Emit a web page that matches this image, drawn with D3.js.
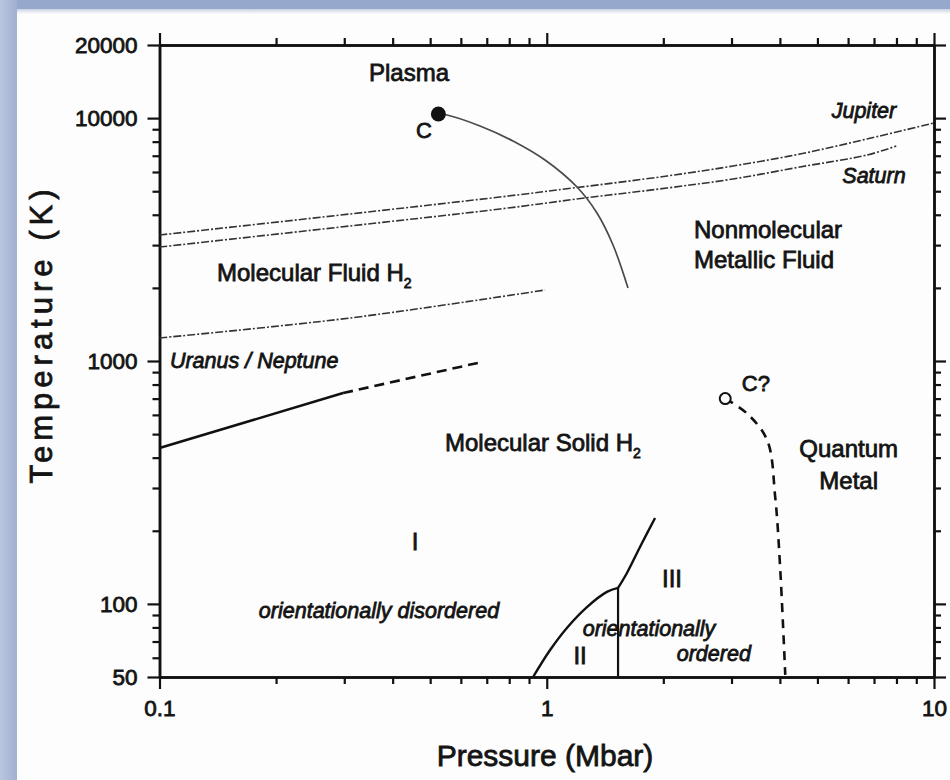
<!DOCTYPE html>
<html>
<head>
<meta charset="utf-8">
<script src="https://cdn.jsdelivr.net/npm/d3@7"></script>
<style>
  html, body { margin: 0; padding: 0; background: #fff; }
  svg { display: block; }
  text { font-family: "Liberation Sans", Arial, Helvetica, sans-serif; fill: #141414; }
</style>
</head>
<body>
<svg id="chart" width="950" height="780"></svg>
<script>
// ---- axis ticks ----
const pressureMajor = [0.1, 1, 10];
const pressureMinor = [0.2, 0.3, 0.4, 0.5, 0.6, 0.7, 0.8, 0.9, 2, 3, 4, 5, 6, 7, 8, 9];
const pressureLabels = ["0.1", "1", "10"];
const tempMajor = [50, 100, 1000, 10000, 20000];
const tempMinor = [60, 70, 80, 90, 200, 300, 400, 500, 600, 700, 800, 900,
                   2000, 3000, 4000, 5000, 6000, 7000, 8000, 9000];
const tempLabels = ["50", "100", "1000", "10000", "20000"];

// ---- phase boundaries and isentropes: [pressure (Mbar), temperature (K)] ----
const criticalPoint = [0.525, 10400];
const plasmaBoundary = [[0.525, 10400], [0.5527, 10300], [0.6724, 9279], [0.818, 8050], [0.9897, 6722],
                        [1.197, 5203], [1.348, 4067], [1.483, 3002], [1.621, 1998]];
const jupiterIsentrope = [[0.1, 3302], [0.31, 4029], [0.757, 4734], [1.169, 5154], [2.044, 5776],
                          [3.027, 6351], [4.508, 7116], [6.71, 8204], [10, 9546]];
const saturnIsentrope = [[0.1, 2946], [0.31, 3596], [0.757, 4224], [1.255, 4690], [2.044, 5154],
                         [3.027, 5615], [4.508, 6292], [6.71, 7047], [7.99, 7676]];
const uranusIsentrope = [[0.1, 1244], [0.31, 1503], [0.99, 1960]];
const meltingMeasured = [[0.1, 438], [0.298, 738]];
const meltingExtrapolated = [[0.298, 738], [0.681, 991]];
const phaseIIBoundary = [[0.922, 50], [1.02, 64.6], [1.13, 80], [1.27, 97], [1.43, 112], [1.528, 116.3]];
const phaseIIIBoundary = [[1.528, 116.3], [1.611, 134], [1.741, 171.5], [1.904, 225.8]];
const phaseII_IIIBoundary = [[1.528, 116.3], [1.528, 50]];
const metalCriticalPoint = [2.89, 700];
const metalBoundary = [[2.89, 700], [3.29, 608], [3.71, 471], [3.89, 275], [4.0, 147], [4.13, 51]];

// ---- region labels: text, pressure, temperature, anchor ----
const regionLabels = [
  ["Plasma", 0.441, 15480, "middle"],
  ["Nonmolecular", 2.40, 3495, "start"],
  ["Metallic Fluid", 2.40, 2630, "start"],
  ["Quantum", 6.02, 437, "middle"],
  ["Metal", 6.02, 323, "middle"],
  ["I", 0.457, 181.5, "middle"],
  ["II", 1.219, 61.6, "middle"],
  ["III", 2.106, 127.8, "middle"]
];
const subscriptLabels = [
  ["Molecular Fluid H", "2", 0.1408, 2323],
  ["Molecular Solid H", "2", 0.546, 464]
];
const italicLabels = [
  ["Jupiter", 7.99, 10800, "end"],
  ["Saturn", 8.45, 5830, "end"],
  ["Uranus / Neptune", 0.1064, 1011, "start"],
  ["orientationally disordered", 0.3688, 94.5, "middle"],
  ["orientationally", 1.837, 79.6, "middle"],
  ["ordered", 2.70, 62.8, "middle"]
];
const pointLabels = [
  ["C", 0.482, 8935, "middle"],
  ["C?", 3.19, 812, "start"]
];

// ---- layout ----
const W = 950, H = 780;
const svg = d3.select("#chart");

// framed page
const defs = svg.append("defs");
const gTop = defs.append("linearGradient").attr("id", "frameTop").attr("x1", 0).attr("y1", 0).attr("x2", 0).attr("y2", 1);
gTop.append("stop").attr("offset", "0%").attr("stop-color", "#96a8cb");
gTop.append("stop").attr("offset", "100%").attr("stop-color", "#b4c2de");
const gLeft = defs.append("linearGradient").attr("id", "frameLeft").attr("x1", 0).attr("y1", 0).attr("x2", 1).attr("y2", 0);
gLeft.append("stop").attr("offset", "0%").attr("stop-color", "#b9c6e0");
gLeft.append("stop").attr("offset", "100%").attr("stop-color", "#a0b0d0");
const gShade = defs.append("linearGradient").attr("id", "pageShade").attr("x1", 0).attr("y1", 0).attr("x2", 0).attr("y2", 1);
gShade.append("stop").attr("offset", "0%").attr("stop-color", "#c9d1e2");
gShade.append("stop").attr("offset", "100%").attr("stop-color", "#fdfdfd");
svg.append("rect").attr("width", W).attr("height", H).attr("fill", "url(#frameTop)");
svg.append("rect").attr("x", 0).attr("y", 0).attr("width", 17).attr("height", H).attr("fill", "url(#frameLeft)");
svg.append("rect").attr("x", 17).attr("y", 9).attr("width", W - 17).attr("height", H - 9).attr("fill", "#fdfdfd");
svg.append("rect").attr("x", 17).attr("y", 9).attr("width", W - 17).attr("height", 5).attr("fill", "url(#pageShade)");

const x = d3.scaleLog().domain([0.1, 10]).range([159.5, 934]);
const y = d3.scaleLog().domain([50, 20000]).range([677, 45]);

const plot = svg.append("g");

// ---- axes on all four sides, ticks pointing outward ----
function styleAxis(g) {
  g.select(".domain").attr("stroke", "#111").attr("stroke-width", 2.5);
  g.selectAll(".tick line").attr("stroke", "#111").attr("stroke-width", 2.2);
  g.selectAll("text").attr("font-size", 22.5).attr("fill", "#141414")
    .attr("stroke", "#141414").attr("stroke-width", 0.8)
    .attr("font-family", "'Liberation Sans', Arial, sans-serif");
}
const MAJ = 12, MIN = 7;

// bottom
plot.append("g").attr("transform", `translate(0,${y(50)})`)
  .call(d3.axisBottom(x).tickValues(pressureMinor).tickSize(MIN).tickSizeOuter(0).tickFormat(""))
  .call(styleAxis);
plot.append("g").attr("transform", `translate(0,${y(50)})`)
  .call(d3.axisBottom(x).tickValues(pressureMajor).tickSize(MAJ).tickSizeOuter(0).tickPadding(11)
    .tickFormat((d, i) => pressureLabels[i]))
  .call(styleAxis);
// top
plot.append("g").attr("transform", `translate(0,${y(20000)})`)
  .call(d3.axisTop(x).tickValues(pressureMinor).tickSize(MIN).tickSizeOuter(0).tickFormat(""))
  .call(styleAxis);
plot.append("g").attr("transform", `translate(0,${y(20000)})`)
  .call(d3.axisTop(x).tickValues(pressureMajor).tickSize(MAJ).tickSizeOuter(0).tickFormat(""))
  .call(styleAxis);
// left
plot.append("g").attr("transform", `translate(${x(0.1)},0)`)
  .call(d3.axisLeft(y).tickValues(tempMinor).tickSize(MIN).tickSizeOuter(0).tickFormat(""))
  .call(styleAxis);
plot.append("g").attr("transform", `translate(${x(0.1)},0)`)
  .call(d3.axisLeft(y).tickValues(tempMajor).tickSize(MAJ).tickSizeOuter(0).tickPadding(10)
    .tickFormat((d, i) => tempLabels[i]))
  .call(styleAxis);
// right
plot.append("g").attr("transform", `translate(${x(10)},0)`)
  .call(d3.axisRight(y).tickValues(tempMinor).tickSize(MIN).tickSizeOuter(0).tickFormat(""))
  .call(styleAxis);
plot.append("g").attr("transform", `translate(${x(10)},0)`)
  .call(d3.axisRight(y).tickValues(tempMajor).tickSize(MAJ).tickSizeOuter(0).tickFormat(""))
  .call(styleAxis);

// axis titles
plot.append("text")
  .attr("x", 545).attr("y", 766)
  .attr("text-anchor", "middle").attr("font-size", 30)
  .attr("stroke", "#141414").attr("stroke-width", 0.8)
  .text("Pressure (Mbar)");
plot.append("text")
  .attr("transform", `translate(52,334) rotate(-90)`)
  .attr("text-anchor", "middle").attr("font-size", 31).attr("letter-spacing", 5)
  .attr("stroke", "#141414").attr("stroke-width", 0.8)
  .text("Temperature (K)");

// ---- curves ----
const line = d3.line().x(d => x(d[0])).y(d => y(d[1]));
const smooth = d3.line().x(d => x(d[0])).y(d => y(d[1])).curve(d3.curveCatmullRom.alpha(0.5));
const curves = plot.append("g").attr("fill", "none").attr("stroke-linecap", "butt");

// isentropes (dash-dot)
[jupiterIsentrope, saturnIsentrope, uranusIsentrope].forEach(s => {
  curves.append("path").datum(s).attr("d", smooth)
    .attr("stroke", "#333").attr("stroke-width", 1.6)
    .attr("stroke-dasharray", "8,2,2,2");
});

// plasma boundary
curves.append("path").datum(plasmaBoundary).attr("d", smooth)
  .attr("stroke", "#4a4a4a").attr("stroke-width", 1.7);

// melting line
curves.append("path").datum(meltingMeasured).attr("d", line)
  .attr("stroke", "#111").attr("stroke-width", 2.6);
curves.append("path").datum(meltingExtrapolated).attr("d", line)
  .attr("stroke", "#111").attr("stroke-width", 2.6).attr("stroke-dasharray", "10,6");

// solid-phase boundaries
[phaseIIBoundary, phaseIIIBoundary].forEach(s => {
  curves.append("path").datum(s).attr("d", smooth)
    .attr("stroke", "#111").attr("stroke-width", 2.4);
});
curves.append("path").datum(phaseII_IIIBoundary).attr("d", line)
  .attr("stroke", "#111").attr("stroke-width", 2.2);

// metallization boundary (dashed)
curves.append("path").datum(metalBoundary).attr("d", smooth)
  .attr("stroke", "#111").attr("stroke-width", 2.6).attr("stroke-dasharray", "9,7");

// critical points
plot.append("circle").attr("cx", x(criticalPoint[0])).attr("cy", y(criticalPoint[1]))
  .attr("r", 7.5).attr("fill", "#111");
plot.append("circle").attr("cx", x(metalCriticalPoint[0])).attr("cy", y(metalCriticalPoint[1]))
  .attr("r", 5.5).attr("fill", "#fdfdfd").attr("stroke", "#111").attr("stroke-width", 2);

// ---- labels ----
const labels = plot.append("g").attr("stroke", "#141414").attr("stroke-width", 0.8);
regionLabels.forEach(([t, p, T, anchor]) => {
  labels.append("text").attr("x", x(p)).attr("y", y(T)).attr("dy", "0.36em")
    .attr("text-anchor", anchor).attr("font-size", 24).text(t);
});
subscriptLabels.forEach(([t, sub, p, T]) => {
  const txt = labels.append("text").attr("x", x(p)).attr("y", y(T)).attr("dy", "0.36em")
    .attr("font-size", 24);
  txt.append("tspan").text(t);
  txt.append("tspan").attr("font-size", 14).attr("dy", 7).text(sub);
});
italicLabels.forEach(([t, p, T, anchor]) => {
  labels.append("text").attr("x", x(p)).attr("y", y(T)).attr("dy", "0.36em")
    .attr("text-anchor", anchor).attr("font-size", 21.5).attr("font-style", "italic").text(t);
});
pointLabels.forEach(([t, p, T, anchor]) => {
  labels.append("text").attr("x", x(p)).attr("y", y(T)).attr("dy", "0.36em")
    .attr("text-anchor", anchor).attr("font-size", 22).text(t);
});
</script>
</body>
</html>
